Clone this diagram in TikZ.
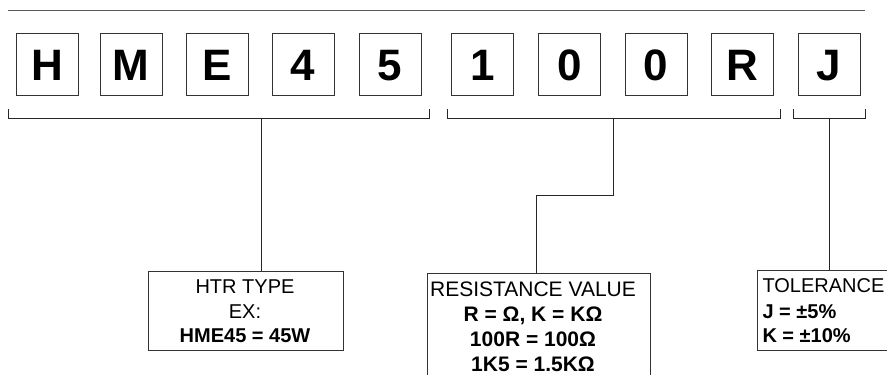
\documentclass[tikz,border=0pt]{standalone}
\usepackage{fontspec}
\setmainfont{Liberation Sans}
\begin{document}
\begin{tikzpicture}[x=1pt,y=-1pt,
  line width=1pt,
  charbox/.style={draw=black!80,minimum width=62pt,minimum height=62pt,inner sep=0pt},
  chartext/.style={anchor=base,inner sep=0pt,font=\fontsize{44}{44}\selectfont\bfseries},
  lbox/.style={draw=black!80,inner sep=0pt},
  ltext/.style={anchor=base,inner sep=0pt,font=\fontsize{20}{24}\selectfont},
  btext/.style={ltext,font=\fontsize{20}{24}\selectfont\bfseries},
  rtext/.style={anchor=base,inner sep=0pt,font=\fontsize{21}{24}\selectfont},
  rbtext/.style={rtext,font=\fontsize{21}{24}\selectfont\bfseries},
  wire/.style={draw=black!85,line width=1pt}]
\useasboundingbox (0,0) rectangle (887,375);
\draw[black!65] (8,10) -- (865,10);
% character boxes
\foreach \n/\x/\c in {b1/47/H,b2/131/M,b3/217/E,b4/303/4,b5/390/5,b6/482.5/1,b7/569.5/0,b8/656/0,b9/742.5/R,b10/829/J}{
  \node[charbox] (\n) at (\x,64) {};
  \node[chartext] (\n t) at (\x,80.5) {\c};
}
% brackets
\coordinate (k1a) at (8,109); \coordinate (k1b) at (429,109);
\coordinate (k2a) at (447,109); \coordinate (k2b) at (780,109);
\coordinate (k3a) at (793,109); \coordinate (k3b) at (865,109);
\draw[wire] (k1a) -- ++(0,9) -| (k1b);
\draw[wire] (k2a) -- ++(0,9) -| (k2b);
\draw[wire] (k3a) -- ++(0,9) -| (k3b);
\coordinate (s1) at (261,118);
\coordinate (s2) at (613,118);
\coordinate (s3) at (829,118);
% label boxes
\node[lbox,minimum width=195pt,minimum height=79pt] (htr) at (245.5,310.5) {};
\node[lbox,minimum width=223pt,minimum height=110pt] (res) at (538.5,328) {};
\node[lbox,minimum width=140pt,minimum height=80pt] (tol) at (827,310) {};
% connectors
\draw[wire] (s1) -- (s1 |- htr.north);
\draw[wire] (s2) -- (613,195) -| (res.north -| 536,0);
\draw[wire] (s3) -- (s3 |- tol.north);
% texts
\node[ltext] (h1) at (245,293.3) {HTR TYPE};
\node[ltext] (h2) at (245,318) {EX:};
\node[btext] (h3) at (245,342.3) {HME45 = 45W};
\node[rtext] (r1) at (533,296.7) {RESISTANCE VALUE};
\node[rbtext] (r2) at (533,321.5) {R = Ω, K = KΩ};
\node[rbtext] (r3) at (533,346.3) {100R = 100Ω};
\node[rbtext] (r4) at (533,371) {1K5 = 1.5KΩ};
\node[ltext,anchor=base west] (t1) at (762,292.3) {TOLERANCE};
\node[btext,anchor=base west] (t2) at (762,318.3) {J = ±5\%};
\node[btext,anchor=base west] (t3) at (762,342.7) {K = ±10\%};
\end{tikzpicture}
\end{document}
